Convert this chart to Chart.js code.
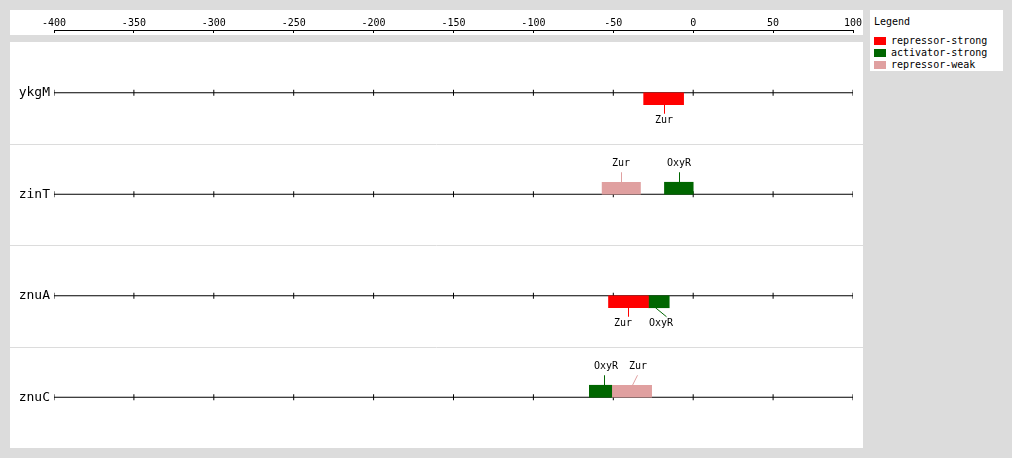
<!DOCTYPE html>
<html><head><meta charset="utf-8">
<script src="https://cdn.jsdelivr.net/npm/chart.js@4.4.1/dist/chart.umd.min.js"></script>
<style>
html,body{margin:0;padding:0;background:#dcdcdc;width:1012px;height:458px;overflow:hidden;}
#axisPanel{position:absolute;left:10px;top:10px;width:853px;height:25px;background:#fff;}
#mainPanel{position:absolute;left:10px;top:42px;width:853px;height:406px;background:#fff;}
canvas{display:block;}
#legend{position:absolute;left:870px;top:10px;width:133px;height:61px;background:#fff;font:10px "DejaVu Sans Mono",monospace;color:#000;}
#legend .title{position:absolute;left:4px;top:6px;line-height:12px;}
#legend .item{position:absolute;left:4px;height:12px;line-height:12px;white-space:nowrap;}
#legend .sw{position:absolute;left:0;top:2px;width:12px;height:8px;}
#legend .tx{position:absolute;left:17px;top:0;}
</style></head>
<body>
<div id="axisPanel"><canvas id="axisCanvas" width="853" height="25" style="width:853px;height:25px"></canvas></div>
<div id="mainPanel"><canvas id="mainCanvas" width="853" height="406" style="width:853px;height:406px"></canvas></div>
<div id="legend"><div class="title">Legend</div></div>
<script>
// ---- data ----
const genes = ['ykgM', 'zinT', 'znuA', 'znuC'];
const tickValues = [-400, -350, -300, -250, -200, -150, -100, -50, 0, 50, 100];
const types = ['repressor-strong', 'activator-strong', 'repressor-weak'];
const typeColors = ['#ff0000', '#006600', '#e0a0a0'];
const siteGene   = ['ykgM', 'zinT', 'zinT', 'znuA', 'znuA', 'znuC', 'znuC'];
const siteTF     = ['Zur', 'Zur', 'OxyR', 'Zur', 'OxyR', 'OxyR', 'Zur'];
const siteType   = ['repressor-strong', 'repressor-weak', 'activator-strong', 'repressor-strong', 'activator-strong', 'activator-strong', 'repressor-weak'];
const siteStrand = ['-', '+', '+', '-', '-', '+', '+'];
const siteStart  = [-31, -57, -18, -53, -28, -65, -51];
const siteEnd    = [-6, -33, 0, -28, -15, -51, -26];

// ---- label layout (pixel nudges: connector start, connector end, label centre) ----
const labelNudge = [[0,0,0],[0,0,0],[0,0,0],[0,0,-5],[-4,7,2],[3,3,5],[0,5,6]];

const FONT = '"DejaVu Sans Mono", monospace';
const xMin = tickValues[0], xMax = tickValues[tickValues.length - 1];

// legend
const legendEl = document.getElementById('legend');
types.forEach((t, i) => {
  const it = document.createElement('div');
  it.className = 'item';
  it.style.top = (25 + 12 * i) + 'px';
  it.innerHTML = '<span class="sw" style="background:' + typeColors[i] + '"></span><span class="tx">' + t + '</span>';
  legendEl.appendChild(it);
});

const noPad = s => { s.paddingLeft = 0; s.paddingRight = 0; s.paddingTop = 0; s.paddingBottom = 0; };

// ---- top axis chart ----
new Chart(document.getElementById('axisCanvas'), {
  type: 'scatter',
  data: { datasets: [] },
  options: {
    responsive: false, animation: false, events: [],
    layout: { padding: { left: 44, right: 10, top: 0, bottom: 0 } },
    plugins: { legend: { display: false }, tooltip: { enabled: false } },
    scales: {
      x: {
        type: 'linear', position: 'top', min: xMin, max: xMax,
        afterBuildTicks: s => { s.ticks = tickValues.map(v => ({ value: v })); },
        afterFit: s => { s.height = 20; noPad(s); },
        ticks: { color: '#000', font: { family: FONT, size: 10 }, padding: 4, maxRotation: 0, autoSkip: false },
        grid: { drawOnChartArea: false, drawTicks: true, tickLength: -3, color: '#000', lineWidth: 1 },
        border: { display: true, color: '#000', width: 1 }
      },
      y: { display: false }
    }
  }
});

// ---- main chart ----
const stackOf = { '+': 'above', '-': 'below' };
const slots = [];
const siteRef = [];
['+', '-'].forEach(strand => {
  siteGene.forEach((g, i) => {
    if (siteStrand[i] !== strand) return;
    const gi = genes.indexOf(g);
    const stack = stackOf[strand];
    let slot = slots.find(s => s.stack === stack && s.data[gi] === null);
    if (!slot) {
      slot = { stack, data: genes.map(() => null), colors: genes.map(() => 'rgba(0,0,0,0)') };
      slots.push(slot);
    }
    const c = typeColors[types.indexOf(siteType[i])];
    slot.data[gi] = [siteStart[i], siteEnd[i]];
    slot.colors[gi] = c;
    siteRef[i] = { ds: slots.indexOf(slot), gi, color: c };
  });
});

const datasets = slots.map((s, k) => ({
  type: 'bar', label: 'sites' + k, stack: s.stack, data: s.data,
  backgroundColor: s.colors, borderWidth: 0, borderSkipped: false,
  barThickness: 12, order: 0
}));
genes.forEach(g => {
  datasets.push({
    type: 'line', label: g, order: 1,
    data: tickValues.map(v => ({ x: v, y: g })),
    borderColor: '#000', borderWidth: 1,
    pointStyle: 'line', rotation: 90, pointRadius: 3, pointHoverRadius: 3,
    pointBorderColor: '#000', pointBorderWidth: 1, pointBackgroundColor: '#000'
  });
});

const rowSeparators = {
  id: 'rowSeparators',
  beforeDatasetsDraw(chart) {
    const y = chart.scales.y, ctx = chart.ctx;
    ctx.save();
    ctx.strokeStyle = '#dcdcdc';
    ctx.lineWidth = 1;
    for (let i = 1; i < genes.length; i++) {
      const p = Math.round((y.getPixelForValue(i - 1) + y.getPixelForValue(i)) / 2) + 0.5;
      ctx.beginPath(); ctx.moveTo(0, p); ctx.lineTo(chart.width, p); ctx.stroke();
    }
    ctx.restore();
  }
};

const siteLabels = {
  id: 'siteLabels',
  afterDatasetsDraw(chart) {
    const ctx = chart.ctx;
    ctx.save();
    ctx.font = '10px ' + FONT;
    ctx.textAlign = 'center';
    ctx.textBaseline = 'middle';
    ctx.lineWidth = 1;
    siteRef.forEach((r, i) => {
      const el = chart.getDatasetMeta(r.ds).data[r.gi];
      const p = el.getProps(['x', 'base', 'y', 'height'], true);
      const cx = (p.x + p.base) / 2;
      const [a, b, c] = labelNudge[i];
      const above = siteStrand[i] === '+';
      const edge = above ? p.y - p.height / 2 : p.y + p.height / 2;
      const end = above ? edge - 10 : edge + 9;
      const ty = above ? edge - 18.5 : edge + 16;
      ctx.strokeStyle = r.color;
      ctx.beginPath();
      ctx.moveTo(Math.round(cx + a) + 0.5, edge);
      ctx.lineTo(Math.round(cx + b) + 0.5, end);
      ctx.stroke();
      ctx.fillStyle = '#000';
      ctx.fillText(siteTF[i], Math.round(cx + c), ty);
    });
    ctx.restore();
  }
};

new Chart(document.getElementById('mainCanvas'), {
  type: 'bar',
  data: { labels: genes, datasets },
  plugins: [rowSeparators, siteLabels],
  options: {
    indexAxis: 'y',
    responsive: false, animation: false, events: [],
    layout: { padding: { left: 0, right: 10, top: 0, bottom: 0 }, autoPadding: false },
    plugins: { legend: { display: false }, tooltip: { enabled: false } },
    scales: {
      x: { type: 'linear', display: false, min: xMin, max: xMax, stacked: false },
      y: {
        type: 'category', offset: true, stacked: true,
        afterFit: s => { s.width = 44; noPad(s); },
        ticks: { color: '#000', font: { family: FONT, size: 13 }, padding: 4 },
        grid: { display: false, drawTicks: false },
        border: { display: false }
      }
    }
  }
});
</script>
</body></html>
